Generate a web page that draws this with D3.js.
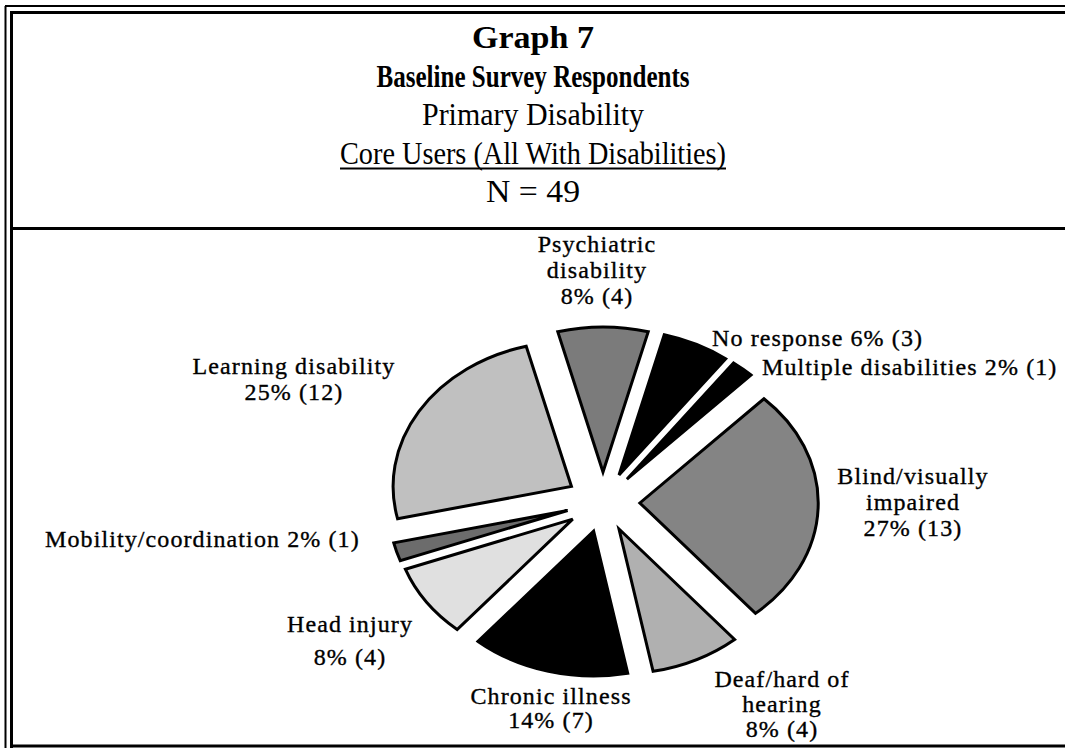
<!DOCTYPE html>
<html>
<head>
<meta charset="utf-8">
<script src="https://cdn.jsdelivr.net/npm/d3@7"></script>
<style>
  html, body { margin: 0; padding: 0; background: #fff; }
  svg { display: block; }
  .title { font-family: "Liberation Serif", "Times New Roman", serif; fill: #000; }
  .lbl { font-family: "Liberation Serif", "Times New Roman", serif; font-size: 24px; letter-spacing: 1.1px;
         fill: #000; stroke: #000; stroke-width: 0.35px; }
</style>
</head>
<body>
<script>
  // chart data
  const titleLines = ["Graph 7", "Baseline Survey Respondents", "Primary Disability",
    "Core Users (All With Disabilities)", "N = 49"];
  const categories = ["Psychiatric disability", "No response", "Multiple disabilities",
    "Blind/visually impaired", "Deaf/hard of hearing", "Chronic illness",
    "Head injury", "Mobility/coordination", "Learning disability"];
  const counts = [4, 3, 1, 13, 4, 7, 4, 1, 12];
  const percents = [8, 6, 2, 27, 8, 14, 8, 2, 25];
  // how the category name is broken over lines in the labels
  const nameLines = [["Psychiatric", "disability"], ["No response"], ["Multiple disabilities"],
    ["Blind/visually", "impaired"], ["Deaf/hard of", "hearing"], ["Chronic illness"],
    ["Head injury"], ["Mobility/coordination"], ["Learning disability"]];

  const width = 1065, height = 748;

  // title line widths as printed (the original face is narrower than Times)
  const titleWidths = [122, 313, 222, 386, 94];

  // where each label sits (x, y of first line, anchor, line gap, value on same line?)
  const labelLayout = [
    { x: 597, y: 252, anchor: "middle", gap: 26, inline: false },
    { x: 712, y: 346, anchor: "start", gap: 26, inline: true },
    { x: 762, y: 375, anchor: "start", gap: 26, inline: true },
    { x: 913, y: 484, anchor: "middle", gap: 26, inline: false },
    { x: 782, y: 687, anchor: "middle", gap: 25, inline: false },
    { x: 551, y: 704, anchor: "middle", gap: 24, inline: false },
    { x: 350, y: 632, anchor: "middle", gap: 33, inline: false },
    { x: 45, y: 547, anchor: "start", gap: 26, inline: true },
    { x: 294, y: 374, anchor: "middle", gap: 26, inline: false }
  ];

  const fills = ["#7b7b7b", "#000", "#000", "#848484", "#b0b0b0", "#000", "#e0e0e0", "#6c6c6c", "#c0c0c0"];

  const svg = d3.select("body").append("svg")
    .attr("width", width)
    .attr("height", height);

  // frame: double line on left and top, divider under the title, bottom line
  const frame = svg.append("g").attr("stroke", "#000").attr("fill", "none");
  frame.append("line").attr("x1", 5.5).attr("y1", 6).attr("x2", 5.5).attr("y2", 748).attr("stroke-width", 2);
  frame.append("line").attr("x1", 5).attr("y1", 6).attr("x2", 1065).attr("y2", 6).attr("stroke-width", 2);
  frame.append("line").attr("x1", 11.5).attr("y1", 12.5).attr("x2", 11.5).attr("y2", 748).attr("stroke-width", 3);
  frame.append("line").attr("x1", 10).attr("y1", 12.5).attr("x2", 1065).attr("y2", 12.5).attr("stroke-width", 3);
  frame.append("line").attr("x1", 10).attr("y1", 228.5).attr("x2", 1065).attr("y2", 228.5).attr("stroke-width", 3);
  frame.append("line").attr("x1", 10).attr("y1", 746).attr("x2", 1065).attr("y2", 746).attr("stroke-width", 3);

  // title block
  const titleY = d3.scalePoint().domain(d3.range(titleLines.length)).range([48, 202]);
  const title = svg.append("g").attr("class", "title");
  title.selectAll("text").data(titleLines).enter().append("text")
    .attr("x", 533)
    .attr("y", (d, i) => titleY(i))
    .attr("text-anchor", "middle")
    .attr("textLength", (d, i) => titleWidths[i])
    .attr("lengthAdjust", "spacingAndGlyphs")
    .style("font-size", "31px")
    .style("font-weight", (d, i) => i < 2 ? "bold" : "normal")
    .text(d => d);

  // underline the "Core Users" line
  title.append("line")
    .attr("x1", 533 - titleWidths[3] / 2).attr("x2", 533 + titleWidths[3] / 2)
    .attr("y1", titleY(3) + 5).attr("y2", titleY(3) + 5)
    .attr("stroke", "#000").attr("stroke-width", 2);

  // exploded pie, slightly wider than tall
  const cx = 603, cy = 502, ry = 145, kx = 1.23, explode = 30;
  const total = d3.sum(counts);
  const half = Math.PI * counts[0] / total;

  const pie = d3.pie().sort(null).value(d => d)
    .startAngle(-half).endAngle(2 * Math.PI - half);
  const arc = d3.arc().innerRadius(0).outerRadius(ry);
  const slices = pie(counts);

  svg.append("g").selectAll("path").data(slices).enter().append("path")
    .attr("d", arc)
    .attr("transform", d => {
      const mid = (d.startAngle + d.endAngle) / 2;
      const dx = kx * explode * Math.sin(mid);
      const dy = -explode * Math.cos(mid);
      return `translate(${cx + dx},${cy + dy}) scale(${kx},1)`;
    })
    .attr("fill", (d, i) => fills[i])
    .attr("stroke", "#000")
    .attr("stroke-width", 3)
    .attr("stroke-linejoin", "miter")
    .attr("vector-effect", "non-scaling-stroke");

  // labels
  const labels = svg.append("g").attr("class", "lbl");
  categories.forEach((c, i) => {
    const lay = labelLayout[i];
    const value = `${percents[i]}% (${counts[i]})`;
    let lines = nameLines[i].slice();
    if (lay.inline) lines[lines.length - 1] += " " + value;
    else lines.push(value);
    labels.append("text")
      .attr("text-anchor", lay.anchor)
      .selectAll("tspan").data(lines).enter().append("tspan")
      .attr("x", lay.x)
      .attr("y", (d, j) => lay.y + j * lay.gap)
      .text(d => d);
  });
</script>
</body>
</html>
